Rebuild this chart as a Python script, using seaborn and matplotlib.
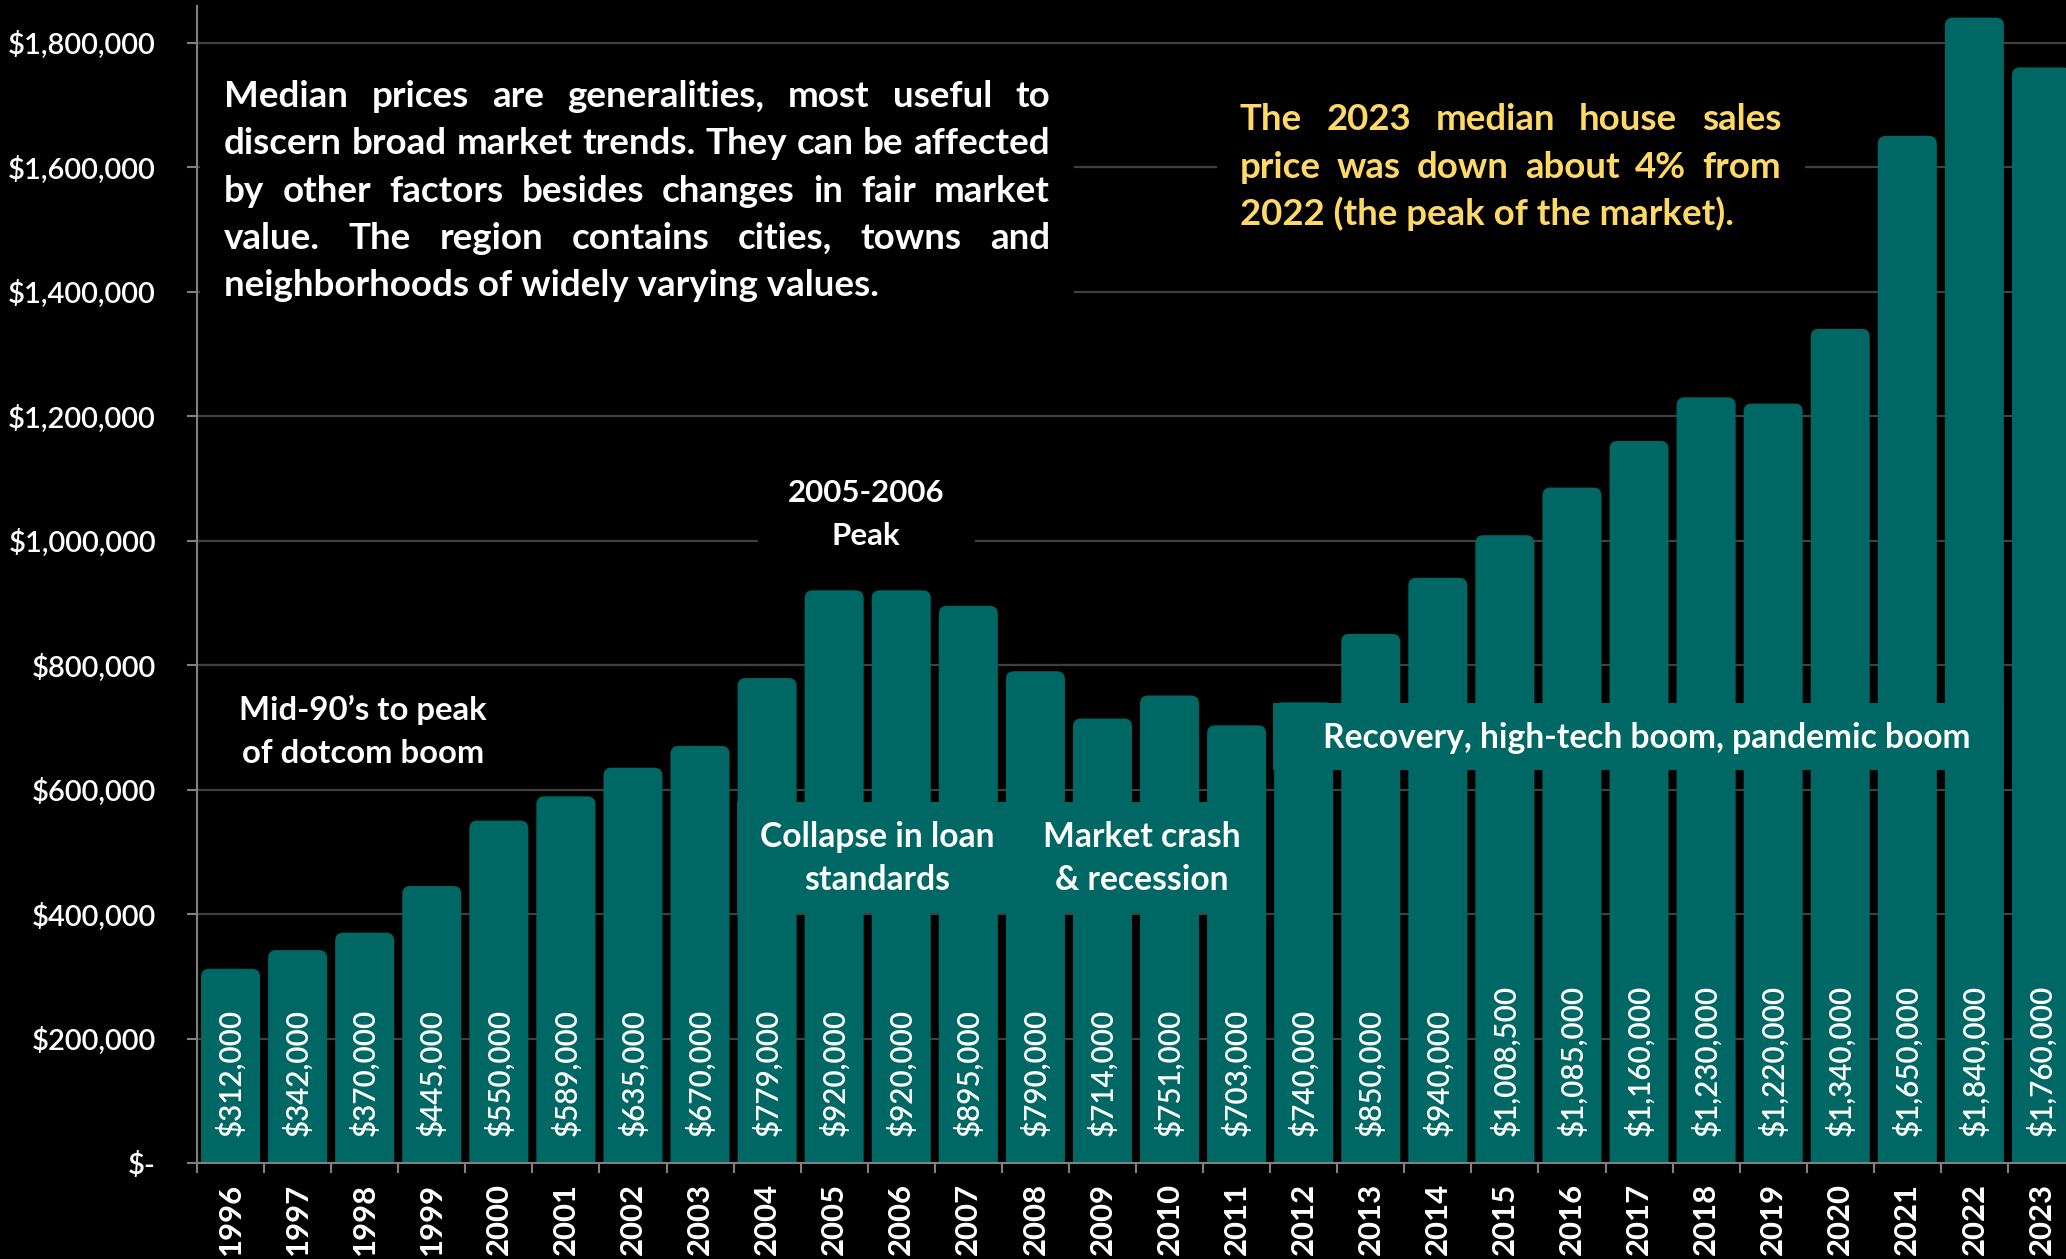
import numpy as np
import pandas as pd
import matplotlib
matplotlib.use("Agg")
import matplotlib.pyplot as plt
import seaborn as sns
from matplotlib.patches import FancyBboxPatch, Rectangle

# ---------------- data ----------------
years = ["1996", "1997", "1998", "1999", "2000", "2001", "2002", "2003", "2004",
         "2005", "2006", "2007", "2008", "2009", "2010", "2011", "2012", "2013",
         "2014", "2015", "2016", "2017", "2018", "2019", "2020", "2021", "2022", "2023"]
prices = [312000, 342000, 370000, 445000, 550000, 589000, 635000, 670000, 779000,
          920000, 920000, 895000, 790000, 714000, 751000, 703000, 740000, 850000,
          940000, 1008500, 1085000, 1160000, 1230000, 1220000, 1340000, 1650000,
          1840000, 1760000]
ytick_values = [0, 200000, 400000, 600000, 800000, 1000000, 1200000, 1400000, 1600000, 1800000]
ytick_labels = ["$-", "$200,000", "$400,000", "$600,000", "$800,000", "$1,000,000",
                "$1,200,000", "$1,400,000", "$1,600,000", "$1,800,000"]

note_left = ["Median prices are generalities, most useful to",
             "discern broad market trends. They can be affected",
             "by other factors besides changes in fair market",
             "value. The region contains cities, towns and",
             "neighborhoods of widely varying values."]
note_right = ["The 2023 median house sales",
              "price was down about 4% from",
              "2022 (the peak of the market)."]
label_peak = ["2005-2006", "Peak"]
label_mid90 = ["Mid-90\u2019s to peak", "of dotcom boom"]
label_collapse = ["Collapse in loan", "standards"]
label_crash = ["Market crash", "& recession"]
label_recovery = "Recovery, high-tech boom, pandemic boom"

# ---------------- style ----------------
TEAL = "#006864"
SPINE = "#808080"
GRID = "#404040"
YELLOW = "#FFD966"

sns.set_theme(style="dark", rc={"axes.facecolor": "black", "figure.facecolor": "black",
                                "savefig.facecolor": "black", "text.color": "white"})
plt.rcParams["font.family"] = ["Lato", "DejaVu Sans"]

W, H = 2066, 1259
fig = plt.figure(figsize=(W / 100, H / 100), dpi=100)
renderer = fig.canvas.get_renderer()


def P(x, y):
    return x / W, 1 - y / H


def measure(text, fs, **kw):
    t = fig.text(0, 0, text, fontsize=fs, **kw)
    w = t.get_window_extent(renderer).width
    t.remove()
    return w


def fit(text, width_px, **kw):
    return 20 * width_px / measure(text, 20, **kw)


AX_TOP, AX_BOT, AX_L, AX_R = 6, 1163, 197, 2075
ax = fig.add_axes([AX_L / W, (H - AX_BOT) / H, (AX_R - AX_L) / W, (AX_BOT - AX_TOP) / H])

df = pd.DataFrame({"year": years, "price": prices})
sns.barplot(data=df, x="year", y="price", color=TEAL, saturation=1, width=0.88,
            ax=ax, edgecolor="none", linewidth=0)

ymax = 1.8e6 * (AX_BOT - AX_TOP) / (AX_BOT - 42.5)
ax.set_xlim(-0.5, 27.5)
ax.set_ylim(0, ymax)

# rounded tops for the seaborn bars
inv = ax.transData.inverted()
(x0, y0), (x1, y1) = inv.transform([(0, 0), (1, 1)])
dxp, dyp = x1 - x0, y1 - y0
r_px = 8
for p in list(ax.patches):
    x, w, h = p.get_x(), p.get_width(), p.get_height()
    fb = FancyBboxPatch((x, -20 * dyp), w, h + 20 * dyp,
                        boxstyle=f"round,pad=0,rounding_size={r_px * dxp}",
                        mutation_aspect=dyp / dxp, facecolor=TEAL, edgecolor="none",
                        zorder=p.get_zorder())
    p.remove()
    ax.add_patch(fb)
ax.set_xlim(-0.5, 27.5)
ax.set_ylim(0, ymax)

# axes decoration
ax.set_xlabel("")
ax.set_ylabel("")
for s in ["top", "right"]:
    ax.spines[s].set_visible(False)
for s in ["left", "bottom"]:
    ax.spines[s].set_visible(True)
    ax.spines[s].set_color(SPINE)
    ax.spines[s].set_linewidth(1.5)
ax.set_axisbelow(True)
ax.yaxis.grid(True, color=GRID, linewidth=1.6)
ax.xaxis.grid(False)

fs_y = fit("$1,800,000", 149, fontweight="semibold")
ax.set_yticks(ytick_values)
ax.set_yticklabels(ytick_labels, fontweight="semibold")
ax.tick_params(axis="y", left=True, length=7.2, width=1.5, color=SPINE,
               pad=31 * 0.72, labelsize=fs_y, labelcolor="white")

fs_year = fit("1996", 72, fontweight="bold")
ax.set_xticks(range(len(years)))
ax.set_xticklabels(years, rotation=90, fontweight="bold")
ax.tick_params(axis="x", which="major", bottom=False, length=0, pad=20 * 0.72,
               labelsize=fs_year, labelcolor="white")
ax.set_xticks(np.arange(-0.5, len(years) + 0.5, 1), minor=True)
ax.tick_params(axis="x", which="minor", bottom=True, length=7.2, width=1.5, color=SPINE)

# value labels inside bars
fs_val = fit("$312,000", 127, fontweight="semibold")
for i, v in enumerate(prices):
    ax.annotate(f"${v:,.0f}", xy=(i, 0), xytext=(0, 27 * 0.72), textcoords="offset points",
                rotation=90, ha="center", va="bottom", color="white", fontsize=fs_val,
                fontweight="semibold", zorder=5)


# ---------------- annotations ----------------
def box(x0, y0, x1, y1, color):
    fig.add_artist(Rectangle(P(x0, y1), (x1 - x0) / W, (y1 - y0) / H,
                             transform=fig.transFigure, facecolor=color,
                             edgecolor="none", zorder=2))


def justified(lines, xl, xr, base0, step, fs, color):
    for k, line in enumerate(lines):
        yb = base0 + k * step
        words = line.split()
        if k == len(lines) - 1:
            fig.text(*P(xl, yb), line, fontsize=fs, fontweight="bold", color=color,
                     ha="left", va="baseline", zorder=3)
            continue
        widths = [measure(wd, fs, fontweight="bold") for wd in words]
        gap = (xr - xl - sum(widths)) / (len(words) - 1)
        x = xl
        for wd, wid in zip(words, widths):
            fig.text(*P(x, yb), wd, fontsize=fs, fontweight="bold", color=color,
                     ha="left", va="baseline", zorder=3)
            x += wid + gap


box(200, 58, 1074, 316, "black")
fs_left = fit(note_left[-1], 656, fontweight="bold")
justified(note_left, 224, 1050, 107, 47.3, fs_left, "white")

box(1217, 62, 1805, 262, "black")
fs_right = fit(note_right[-1], 495, fontweight="bold")
justified(note_right, 1240, 1781, 130, 47.5, fs_right, YELLOW)

box(758, 458, 975, 562, "black")
fs_peak = fit(label_peak[0], 157, fontweight="bold")
for k, t in enumerate(label_peak):
    fig.text(*P(866, 502 + 43 * k), t, fontsize=fs_peak, fontweight="bold",
             color="white", ha="center", va="baseline", zorder=3)

fs_mid = fit(label_mid90[0], 248, fontweight="bold")
for k, t in enumerate(label_mid90):
    fig.text(*P(363, 720 + 43 * k), t, fontsize=fs_mid, fontweight="bold",
             color="white", ha="center", va="baseline", zorder=3)

box(737, 802, 1266, 913, TEAL)
fs_col = fit(label_collapse[0], 235, fontweight="bold")
for k, t in enumerate(label_collapse):
    fig.text(*P(877, 847 + 43 * k), t, fontsize=fs_col, fontweight="bold",
             color="white", ha="center", va="baseline", zorder=3)
for k, t in enumerate(label_crash):
    fig.text(*P(1142, 847 + 43 * k), t, fontsize=fs_col, fontweight="bold",
             color="white", ha="center", va="baseline", zorder=3)

box(1273, 703, 2004, 770, TEAL)
fs_rec = fit(label_recovery, 650, fontweight="bold")
fig.text(*P(1647, 748), label_recovery, fontsize=fs_rec, fontweight="bold",
         color="white", ha="center", va="baseline", zorder=3)

fig.savefig("out.png", dpi=100, facecolor="black")
